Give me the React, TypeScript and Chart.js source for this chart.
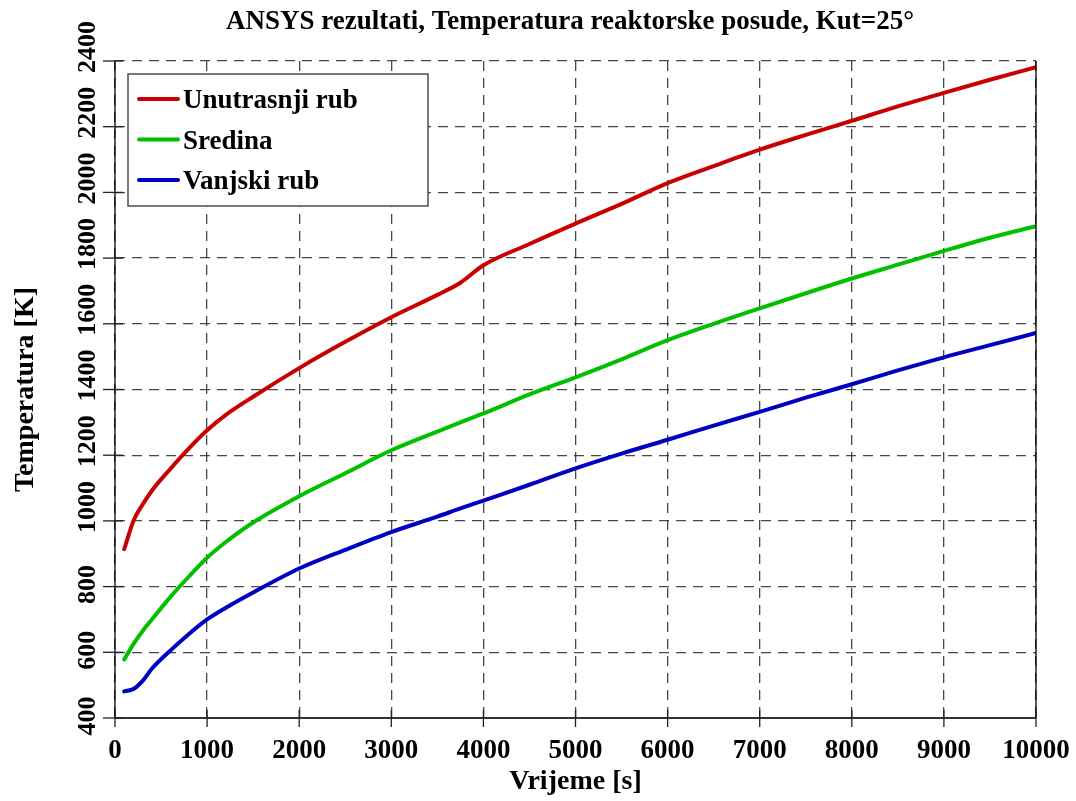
import React, { useEffect, useRef } from "react";
import { Chart, registerables } from "chart.js";

Chart.register(...registerables);

const TITLE = "ANSYS rezultati, Temperatura reaktorske posude, Kut=25°";
const X_TITLE = "Vrijeme [s]";
const Y_TITLE = "Temperatura [K]";

const SERIES_NAMES = ["Unutrasnji rub", "Sredina", "Vanjski rub"];
const SERIES_COLORS = ["#c80000", "#00c000", "#0000c0"];

// time [s]
const TIME = [100, 200, 300, 400, 600, 800, 1000, 1200, 1500, 2000, 2500, 3000, 3500, 3750, 4000, 4500, 5000, 5500, 6000, 6500, 7000, 7500, 8000, 8500, 9000, 9500, 10000];
// temperatures [K]
const INNER = [914, 1000, 1050, 1092, 1158, 1220, 1276, 1322, 1378, 1465, 1545, 1620, 1688, 1725, 1778, 1843, 1905, 1965, 2028, 2080, 2130, 2175, 2218, 2262, 2303, 2343, 2381];
const MIDDLE = [578, 625, 665, 700, 768, 830, 888, 935, 995, 1075, 1145, 1215, 1272, 1300, 1327, 1385, 1437, 1492, 1550, 1600, 1647, 1693, 1738, 1780, 1822, 1862, 1897];
const OUTER = [481, 488, 513, 550, 605, 655, 700, 735, 782, 855, 912, 966, 1013, 1038, 1062, 1110, 1160, 1205, 1247, 1290, 1332, 1375, 1416, 1458, 1498, 1535, 1572];

const X_MIN = 0;
const X_MAX = 10000;
const X_STEP = 1000;
const Y_MIN = 400;
const Y_MAX = 2400;
const Y_STEP = 200;

const SERIES = [INNER, MIDDLE, OUTER];
const FONT = "'Liberation Serif', 'Times New Roman', serif";

const decorPlugin = {
  id: "decor",
  afterDraw(chart: any) {
    const { ctx, chartArea: a, scales } = chart;
    const xs = scales.x;
    const ys = scales.y;
    const seg = (x1: number, y1: number, x2: number, y2: number) => {
      ctx.beginPath();
      ctx.moveTo(x1, y1);
      ctx.lineTo(x2, y2);
      ctx.stroke();
    };
    ctx.save();
    ctx.setLineDash([]);
    // frame: right solid, left axis, bottom axis
    ctx.strokeStyle = "#000";
    ctx.lineWidth = 1.3;
    seg(a.right, a.top, a.right, a.bottom);
    seg(a.left, a.top, a.left, a.bottom);
    ctx.strokeStyle = "#333";
    ctx.lineWidth = 2;
    seg(a.left, a.bottom, a.right, a.bottom);

    // tick marks
    ctx.strokeStyle = "#222";
    ctx.lineWidth = 1.3;
    ys.ticks.forEach((t: any) => {
      const py = ys.getPixelForValue(t.value);
      seg(a.left - 12, py, a.left + 8, py);
    });
    xs.ticks.forEach((t: any) => {
      const px = xs.getPixelForValue(t.value);
      seg(px, a.bottom - 8, px, a.bottom + 9);
    });

    // x tick labels
    ctx.fillStyle = "#000";
    ctx.font = `bold 27px ${FONT}`;
    ctx.textAlign = "center";
    ctx.textBaseline = "alphabetic";
    xs.ticks.forEach((t: any) => {
      const px = xs.getPixelForValue(t.value);
      ctx.fillText(String(t.value), px, a.bottom + 40);
    });

    // y tick labels (rotated)
    ctx.font = `bold 26px ${FONT}`;
    ys.ticks.forEach((t: any) => {
      const py = ys.getPixelForValue(t.value);
      const label = String(t.value);
      const off = label.length >= 4 ? 14 : 2;
      ctx.save();
      ctx.translate(a.left - 20, py - off);
      ctx.rotate(-Math.PI / 2);
      ctx.textAlign = "center";
      ctx.fillText(label, 0, 0);
      ctx.restore();
    });

    // axis titles
    ctx.font = `bold 28px ${FONT}`;
    ctx.textAlign = "center";
    ctx.fillText(X_TITLE, (a.left + a.right) / 2, a.bottom + 71);
    ctx.save();
    ctx.translate(33, (a.top + a.bottom) / 2);
    ctx.rotate(-Math.PI / 2);
    ctx.fillText(Y_TITLE, 0, 0);
    ctx.restore();

    // chart title
    ctx.font = `bold 27px ${FONT}`;
    ctx.fillText(TITLE, 570, 29);

    // legend box
    const bx = a.left + 13;
    const by = a.top + 13;
    const bw = 300;
    const bh = 132;
    ctx.fillStyle = "#fff";
    ctx.fillRect(bx, by, bw, bh);
    ctx.strokeStyle = "#333";
    ctx.lineWidth = 1.3;
    ctx.strokeRect(bx, by, bw, bh);
    ctx.font = `bold 27px ${FONT}`;
    ctx.textAlign = "left";
    chart.data.datasets.forEach((ds: any, i: number) => {
      const ly = by + 25 + i * 40.5;
      ctx.strokeStyle = ds.borderColor;
      ctx.lineWidth = 4;
      ctx.lineCap = "round";
      seg(bx + 11, ly, bx + 50, ly);
      ctx.fillStyle = "#000";
      ctx.fillText(ds.label, bx + 55, ly + 9);
    });
    ctx.restore();
  },
};

export default function App() {
  const ref = useRef<HTMLCanvasElement | null>(null);
  useEffect(() => {
    if (!ref.current) return;
    const datasets = SERIES.map((vals, i) => ({
      label: SERIES_NAMES[i],
      data: TIME.map((t, j) => ({ x: t, y: vals[j] })),
      borderColor: SERIES_COLORS[i],
      backgroundColor: SERIES_COLORS[i],
      borderWidth: 4,
      pointRadius: 0,
      borderCapStyle: "round" as const,
      borderJoinStyle: "round" as const,
      cubicInterpolationMode: "monotone" as const,
      fill: false,
    }));
    const grid = { color: "rgba(40,40,40,0.85)", lineWidth: 1.3, drawTicks: false };
    const chart = new Chart(ref.current, {
      type: "line",
      data: { datasets },
      options: {
        animation: false,
        responsive: false,
        devicePixelRatio: 1,
        layout: { padding: { left: 115, top: 61, right: 40, bottom: 83 } },
        plugins: { legend: { display: false }, title: { display: false }, tooltip: { enabled: false } },
        scales: {
          x: {
            type: "linear",
            min: X_MIN,
            max: X_MAX,
            ticks: { stepSize: X_STEP, display: false },
            grid,
            border: { display: false, dash: [10, 7] },
          },
          y: {
            type: "linear",
            min: Y_MIN,
            max: Y_MAX,
            ticks: { stepSize: Y_STEP, display: false },
            grid,
            border: { display: false, dash: [10, 7] },
          },
        },
      },
      plugins: [decorPlugin],
    });
    return () => chart.destroy();
  }, []);
  return (
    <div style={{ position: "fixed", left: 0, top: 0, width: 1076, height: 801, background: "#fff" }}>
      <canvas ref={ref} width={1076} height={801} style={{ display: "block" }} />
    </div>
  );
}
